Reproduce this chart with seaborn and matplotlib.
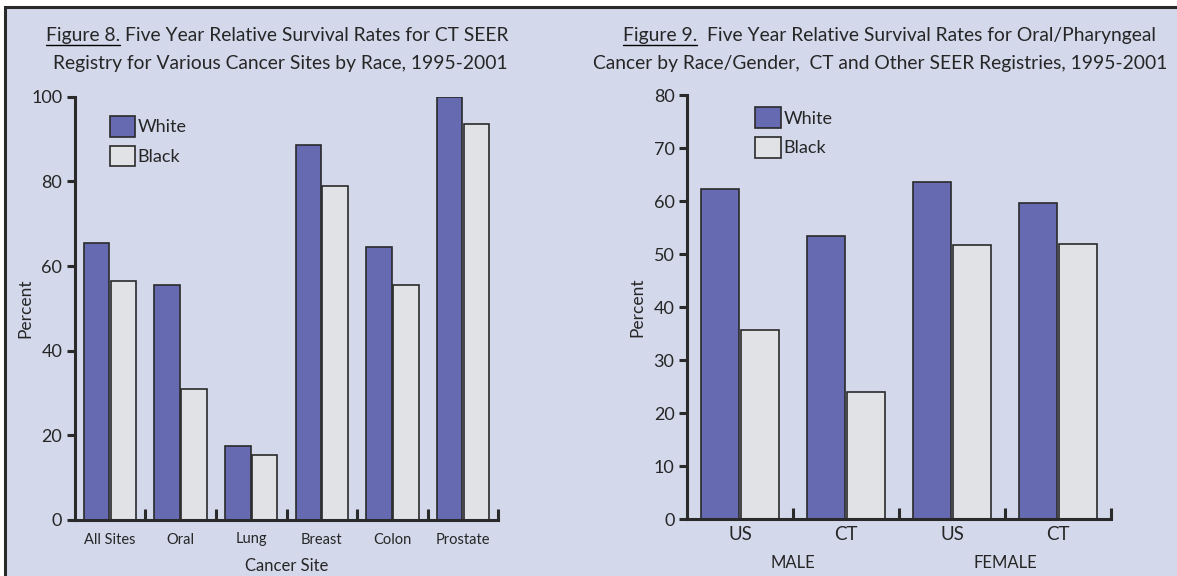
import pandas as pd
import matplotlib.pyplot as plt
import seaborn as sns
from matplotlib.patches import Rectangle
from matplotlib.lines import Line2D

# Figure 8 data
sites = ['All Sites', 'Oral', 'Lung', 'Breast', 'Colon', 'Prostate']
white_sites = [65.5, 55.5, 17.5, 88.5, 64.5, 100.0]
black_sites = [56.5, 31.0, 15.3, 78.8, 55.5, 93.5]

# Figure 9 data
groups = ['US', 'CT', 'US ', 'CT ']
group_labels = ['US', 'CT', 'US', 'CT']
genders = ['MALE', 'FEMALE']
white_oral = [62.4, 53.4, 63.7, 59.6]
black_oral = [35.7, 23.9, 51.8, 52.0]

races = ['White', 'Black']
colors = ['#666AB0', '#E1E2E5']
bg = '#D3D8EB'
dark = '#2a2a2a'

df8 = pd.DataFrame({'site': sites * 2,
                    'pct': white_sites + black_sites,
                    'race': ['White'] * 6 + ['Black'] * 6})
df9 = pd.DataFrame({'grp': groups * 2,
                    'pct': white_oral + black_oral,
                    'race': ['White'] * 4 + ['Black'] * 4})

sns.set_style('white')
plt.rcParams['font.family'] = ['Lato', 'DejaVu Sans']

fig = plt.figure(figsize=(11.77, 5.76), dpi=100, facecolor='white')
fig.patches.append(Rectangle((5 / 1177, -0.05), 1.1, 1 - 7 / 576 + 0.05,
                             transform=fig.transFigure, facecolor=bg,
                             edgecolor=dark, linewidth=2.2, zorder=-10))

ax1 = fig.add_axes([74.7 / 1177, 1 - 520 / 576, 423.6 / 1177, 423.3 / 576])
ax2 = fig.add_axes([687 / 1177, 1 - 519 / 576, 424 / 1177, 423.7 / 576])

sns.barplot(data=df8, x='site', y='pct', hue='race', palette=colors, ax=ax1,
            width=0.76, gap=0.05, edgecolor=dark, linewidth=1.2, saturation=1,
            legend=False)
sns.barplot(data=df9, x='grp', y='pct', hue='race', palette=colors, ax=ax2,
            width=0.76, gap=0.05, edgecolor=dark, linewidth=1.2, saturation=1,
            legend=False)

for ax, n, ymax, step in [(ax1, 6, 100, 20), (ax2, 4, 80, 10)]:
    ax.set_facecolor('none')
    ax.set_xlim(-0.5, n - 0.5)
    ax.set_ylim(0, ymax)
    ax.set_yticks(range(0, ymax + 1, step))
    ax.set_xticks([i + 0.5 for i in range(n)], minor=True)
    for s in ['top', 'right']:
        ax.spines[s].set_visible(False)
    for s in ['left', 'bottom']:
        ax.spines[s].set_linewidth(2.2)
        ax.spines[s].set_color(dark)
    ax.tick_params(axis='y', which='major', left=True, length=6, width=2.2,
                   color=dark, labelsize=13, pad=3)
    ax.tick_params(axis='x', which='major', bottom=False, length=0, pad=9)
    ax.tick_params(axis='x', which='minor', bottom=True, direction='in',
                   length=8, width=2.2, color=dark)
    ax.set_xlabel('')
    ax.set_ylabel('Percent', fontsize=12.5)
    ax.yaxis.set_label_coords(-0.097, 0.5)
    handles = [Rectangle((0, 0), 1, 1, facecolor=c, edgecolor=dark, linewidth=1.2)
               for c in colors]
    ax.legend(handles, races, frameon=False, fontsize=13, loc='upper left',
              bbox_to_anchor=(0.083, 0.955) if ax is ax1 else (0.161, 0.972),
              borderpad=0, borderaxespad=0, handlelength=1.4, handleheight=1.4,
              handletextpad=0.15, labelspacing=0.5)

ax1.set_xticks(range(6), sites, fontsize=10.5)
ax1.set_xlabel('Cancer Site', fontsize=12, labelpad=8)

ax2.set_xticks(range(4), group_labels, fontsize=13.5)
ax2.tick_params(axis='x', which='major', pad=5)
for i, g in enumerate(genders):
    ax2.text(0.5 + 2 * i, -0.103, g, transform=ax2.get_xaxis_transform(),
             ha='center', va='center', fontsize=12)

# titles with underlined figure number
fig.canvas.draw()
renderer = fig.canvas.get_renderer()
titles = [(277, 280, 'Figure 8.', ' Five Year Relative Survival Rates for CT SEER',
           'Registry for Various Cancer Sites by Race, 1995-2001'),
          (889, 880, 'Figure 9.', '  Five Year Relative Survival Rates for Oral/Pharyngeal',
           'Cancer by Race/Gender,  CT and Other SEER Registries, 1995-2001')]
for cx1, cx2, head, rest, line2 in titles:
    t1 = fig.text(cx1 / 1177, 1 - 36 / 576, head + rest, ha='center', va='center',
                  fontsize=13.9)
    fig.text(cx2 / 1177, 1 - 63.5 / 576, line2, ha='center', va='center',
             fontsize=13.9)
    bb = t1.get_window_extent(renderer)
    tmp = fig.text(0, 0, head, fontsize=13.9)
    w = tmp.get_window_extent(renderer).width
    tmp.remove()
    y = bb.y0 - 0.5
    fig.add_artist(Line2D([bb.x0, bb.x0 + w], [y, y], transform=None,
                          color='black', linewidth=1))

fig.savefig('out.png', dpi=100, facecolor='white')
